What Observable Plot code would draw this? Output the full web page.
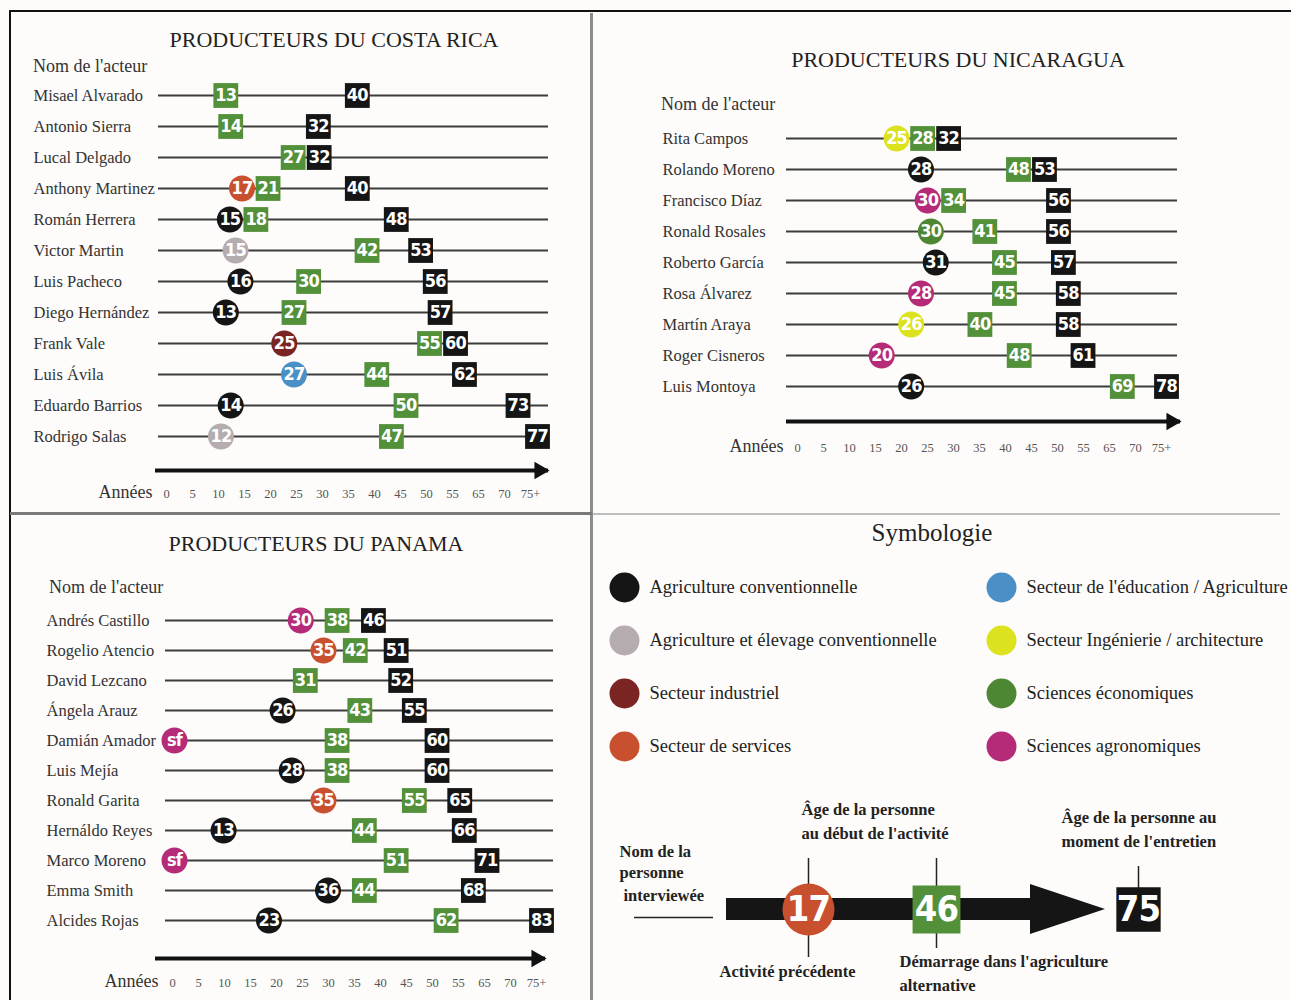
<!DOCTYPE html>
<html><head><meta charset="utf-8">
<script src="https://cdn.jsdelivr.net/npm/d3@7"></script>
<script src="https://cdn.jsdelivr.net/npm/@observablehq/plot@0.6"></script>
<style>
body{margin:0;background:#fdfcfa;}
#page{position:relative;width:1291px;height:1000px;overflow:hidden;background:#fdfcfa;font-family:"Liberation Serif","Times New Roman",serif;color:#222;}
#page svg{position:absolute;left:0;top:0;}
#page svg g[font-family="DejaVu Sans"]{font-stretch:condensed;letter-spacing:-0.8px;}
.t{position:absolute;white-space:nowrap;line-height:1;}
.ln{position:absolute;}
</style></head>
<body><div id="page"></div>
<script>
// ---------- DATA ----------
const categories = ["Agriculture conventionnelle","Agriculture et élevage conventionnelle","Secteur industriel","Secteur de services","Secteur de l'éducation / Agriculture","Secteur Ingénierie / architecture","Sciences économiques","Sciences agronomiques"];
const catColors = ["#151515","#b4acae","#7a2424","#c9502e","#4a8fc6","#dde21f","#4e8734","#b52b78"];
const tickLabels = ["0","5","10","15","20","25","30","35","40","45","50","55","65","70","75+"];

// Costa Rica
const crNames = ["Misael Alvarado","Antonio Sierra","Lucal Delgado","Anthony Martinez","Román Herrera","Victor Martin","Luis Pacheco","Diego Hernández","Frank Vale","Luis Ávila","Eduardo Barrios","Rodrigo Salas"];
const crPrevAge = [null,null,null,17,15,15,16,13,25,27,14,12];
const crPrevCat = [null,null,null,"Secteur de services","Agriculture conventionnelle","Agriculture et élevage conventionnelle","Agriculture conventionnelle","Agriculture conventionnelle","Secteur industriel","Secteur de l'éducation / Agriculture","Agriculture conventionnelle","Agriculture et élevage conventionnelle"];
const crStart = [13,14,27,21,18,42,30,27,55,44,50,47];
const crAge = [40,32,32,40,48,53,56,57,60,62,73,77];

// Nicaragua
const niNames = ["Rita Campos","Rolando Moreno","Francisco Díaz","Ronald Rosales","Roberto García","Rosa Álvarez","Martín Araya","Roger Cisneros","Luis Montoya"];
const niPrevAge = [25,28,30,30,31,28,26,20,26];
const niPrevCat = ["Secteur Ingénierie / architecture","Agriculture conventionnelle","Sciences agronomiques","Sciences économiques","Agriculture conventionnelle","Sciences agronomiques","Secteur Ingénierie / architecture","Sciences agronomiques","Agriculture conventionnelle"];
const niStart = [28,48,34,41,45,45,40,48,69];
const niAge = [32,53,56,56,57,58,58,61,78];

// Panama ("sf" shown at the start of the line)
const paNames = ["Andrés Castillo","Rogelio Atencio","David Lezcano","Ángela Arauz","Damián Amador","Luis Mejía","Ronald Garita","Hernáldo Reyes","Marco Moreno","Emma Smith","Alcides Rojas"];
const paPrevAge = [30,35,null,26,"sf",28,35,13,"sf",36,23];
const paPrevCat = ["Sciences agronomiques","Secteur de services",null,"Agriculture conventionnelle","Sciences agronomiques","Agriculture conventionnelle","Secteur de services","Agriculture conventionnelle","Sciences agronomiques","Agriculture conventionnelle","Agriculture conventionnelle"];
const paStart = [38,42,31,43,38,38,55,44,51,44,62];
const paAge = [46,51,52,55,60,60,65,66,71,68,83];

// Legend example
const exampleKinds = ["prev","start","age"];
const exampleValues = [17,46,75];

// ---------- STYLE ----------
const W = 1291, H = 1000;
const SERIF = "Liberation Serif";
const NUM = "DejaVu Sans";
const GREEN = "#53903a", BLACK = "#151515";
const colorScale = {domain: categories, range: catColors};
const page = document.getElementById("page");

function addDiv(cls, text, css) {
  const d = document.createElement("div");
  d.className = cls; if (text) d.textContent = text;
  Object.assign(d.style, css); page.appendChild(d); return d;
}
function add(svg){ page.appendChild(svg); }

// spread markers of one row so that they do not overlap (keeps group mean)
function spread(vals, gap) {
  let groups = vals.map(v => [v]);
  const place = g => { const m = d3.mean(g); return g.map((_, k) => m + (k - (g.length - 1) / 2) * gap); };
  let changed = true;
  while (changed) {
    changed = false;
    for (let i = 0; i < groups.length - 1; i++) {
      const a = place(groups[i]), b = place(groups[i + 1]);
      if (a[a.length - 1] + gap > b[0] + 1e-6) { groups.splice(i, 2, groups[i].concat(groups[i + 1])); changed = true; break; }
    }
  }
  return groups.flatMap(place);
}

const numText = {fill: "white", fontFamily: NUM, fontWeight: "bold", fontSize: 18, textAnchor: "middle"};

function panel(cfg) {
  const {names, prevAge, prevCat, start, age, xDomain, xRange, frame, yRange, nameX} = cfg;
  const pxPerYear = (xRange[1] - xRange[0]) / (xDomain[1] - xDomain[0]);
  const gap = 26 / pxPerYear;
  const rows = names.map((name, i) => ({name, prev: prevAge[i], cat: prevCat[i], start: start[i], age: age[i]}));
  const markers = [];
  rows.forEach(r => {
    const list = [];
    if (typeof r.prev === "number") list.push({name: r.name, v: r.prev, kind: "prev", cat: r.cat});
    list.push({name: r.name, v: r.start, kind: "start"});
    list.push({name: r.name, v: r.age, kind: "age"});
    const pos = spread(list.map(d => d.v), gap);
    list.forEach((d, k) => { d.pos = pos[k]; markers.push(d); });
  });
  const prevM = markers.filter(d => d.kind === "prev");
  const startM = markers.filter(d => d.kind === "start");
  const ageM = markers.filter(d => d.kind === "age");
  const sfRows = rows.filter(r => r.prev === "sf");
  add(Plot.plot({
    width: W, height: H,
    marginLeft: frame[0], marginRight: W - frame[1], marginTop: 0, marginBottom: 0,
    x: {domain: xDomain, range: xRange, axis: null},
    y: {type: "point", domain: names, range: yRange, padding: 0, axis: null},
    color: colorScale,
    style: {background: "transparent", overflow: "visible"},
    marks: [
      Plot.ruleY(rows, {y: "name", stroke: "#3c3c3c", strokeWidth: 2}),
      Plot.text(rows, {y: "name", text: "name", frameAnchor: "left", textAnchor: "start", dx: nameX - frame[0], fontFamily: SERIF, fontSize: 16.5, fill: "#333"}),
      Plot.dot(prevM, {x: "pos", y: "name", r: 13, fill: "cat"}),
      Plot.text(prevM, {x: "pos", y: "name", text: "v", ...numText}),
      Plot.dot(sfRows, {y: "name", frameAnchor: "left", dx: 9, r: 13, fill: "cat"}),
      Plot.text(sfRows, {y: "name", frameAnchor: "left", dx: 9, text: () => "sf", ...numText}),
      Plot.dot(startM, {x: "pos", y: "name", symbol: "square", r: 14, fill: GREEN}),
      Plot.text(startM, {x: "pos", y: "name", text: "v", ...numText}),
      Plot.dot(ageM, {x: "pos", y: "name", symbol: "square", r: 14, fill: BLACK}),
      Plot.text(ageM, {x: "pos", y: "name", text: "v", ...numText})
    ]
  }));
  // arrow + years axis
  const {arrowX, arrowY, tickRange, labelY} = cfg;
  add(Plot.plot({
    width: W, height: H,
    marginLeft: arrowX[0], marginRight: W - arrowX[1], marginTop: 0, marginBottom: 0,
    x: {type: "point", domain: tickLabels, range: tickRange, padding: 0, axis: null},
    y: {type: "identity", axis: null},
    style: {background: "transparent", overflow: "visible"},
    marks: [
      Plot.ruleY([arrowY], {y: d => d, stroke: "#111", strokeWidth: 4}),
      Plot.dot([arrowY], {y: d => d, frameAnchor: "right", dx: -9, symbol: "triangle", rotate: 90, r: 6.5, fill: "#111"}),
      Plot.text(tickLabels, {x: d => d, y: () => labelY, fontFamily: SERIF, fontSize: 12.5, fill: "#555"}),
      Plot.text(["Années"], {x: () => tickLabels[0], y: () => labelY - 1, textAnchor: "end", dx: -14, fontFamily: SERIF, fontSize: 18, fill: "#333"})
    ]
  }));
  addDiv("t", cfg.title, {left: cfg.titleC[0] + "px", top: cfg.titleC[1] + "px", transform: "translate(-50%,-50%)", fontSize: "22px"});
  addDiv("t", "Nom de l'acteur", {left: cfg.nomAt[0] + "px", top: cfg.nomAt[1] + "px", transform: "translateY(-50%)", fontSize: "18px", color: "#333"});
}

// ---------- FRAME LINES ----------
addDiv("ln", "", {left: "9px", top: "10px", width: (W - 9) + "px", height: "2px", background: "#111"});
addDiv("ln", "", {left: "9px", top: "10px", width: "2px", height: (H - 10) + "px", background: "#111"});
addDiv("ln", "", {left: "590px", top: "13px", width: "3px", height: (H - 13) + "px", background: "#8c8c8c"});
addDiv("ln", "", {left: "10px", top: "512px", width: "582px", height: "3px", background: "#7a7a7a"});
addDiv("ln", "", {left: "593px", top: "513px", width: "687px", height: "1.5px", background: "#bdbdbd"});

// ---------- PANELS ----------
panel({title: "PRODUCTEURS DU COSTA RICA", titleC: [334, 40], nomAt: [33, 66],
  names: crNames, prevAge: crPrevAge, prevCat: crPrevCat, start: crStart, age: crAge,
  xDomain: [0, 77], xRange: [162, 537], frame: [158, 548], yRange: [95, 436], nameX: 33,
  arrowX: [155, 548], arrowY: 470, tickRange: [163, 533], labelY: 493});
panel({title: "PRODUCTEURS DU NICARAGUA", titleC: [958, 60], nomAt: [661, 104],
  names: niNames, prevAge: niPrevAge, prevCat: niPrevCat, start: niStart, age: niAge,
  xDomain: [0, 78], xRange: [783, 1166], frame: [786, 1177], yRange: [137, 387], nameX: 662,
  arrowX: [786, 1180], arrowY: 421, tickRange: [795, 1163], labelY: 447});
panel({title: "PRODUCTEURS DU PANAMA", titleC: [316, 544], nomAt: [49, 587],
  names: paNames, prevAge: paPrevAge, prevCat: paPrevCat, start: paStart, age: paAge,
  xDomain: [0, 83], xRange: [164, 541], frame: [165, 553], yRange: [615, 924], nameX: 46,
  arrowX: [155, 545], arrowY: 958, tickRange: [170, 537], labelY: 982});

// ---------- SYMBOLOGIE ----------
addDiv("t", "Symbologie", {left: "932px", top: "532px", transform: "translate(-50%,-50%)", fontSize: "25px"});
const legendItems = categories.map((c, i) => ({cat: c, col: Math.floor(i / 4), row: i % 4}));
add(Plot.plot({
  width: W, height: H, margin: 0,
  x: {type: "point", domain: [0, 1], range: [624, 1001], padding: 0, axis: null},
  y: {type: "point", domain: [0, 1, 2, 3], range: [586, 747], padding: 0, axis: null},
  color: colorScale,
  style: {background: "transparent", overflow: "visible"},
  marks: [
    Plot.dot(legendItems, {x: "col", y: "row", r: 15, fill: "cat"}),
    Plot.text(legendItems, {x: "col", y: "row", text: "cat", textAnchor: "start", dx: 25, fontFamily: SERIF, fontSize: 18.5, fill: "#222"})
  ]
}));

// schematic explanation of one line
const ex = exampleKinds.map((k, i) => ({kind: k, v: exampleValues[i]}));
const exX = {prev: 808, start: 936, age: 1138};
const exTick = {prev: [858, 957], start: [858, 948], age: [866, 890]};
const notes = [
  {t: "Âge de la personne", x: 801, y: 809}, {t: "au début de l'activité", x: 801, y: 833},
  {t: "Âge de la personne au", x: 1061, y: 817}, {t: "moment de l'entretien", x: 1061, y: 841},
  {t: "Nom de la", x: 619, y: 851}, {t: "personne", x: 619, y: 872}, {t: "interviewée", x: 623, y: 895},
  {t: "Activité précédente", x: 719, y: 971},
  {t: "Démarrage dans l'agriculture", x: 899, y: 961}, {t: "alternative", x: 899, y: 985}
];
const bar = [{x1: 726, x2: 1040, y1: 898, y2: 920}];
const head = [{x: 1030, y1: 884, y2: 934}, {x: 1105, y1: 909, y2: 909}];
const nameLine = [{y: 917, x1: 634, x2: 713}];
const exOf = k => ex.filter(d => d.kind === k);
const exPos = {x: d => exX[d.kind], y: () => 909};
const exNum = {...exPos, text: "v", fill: "white", fontFamily: NUM, fontWeight: "bold", fontSize: 36, textAnchor: "middle"};
add(Plot.plot({
  width: W, height: H, margin: 0,
  x: {type: "identity", axis: null}, y: {type: "identity", axis: null},
  style: {background: "transparent", overflow: "visible"},
  marks: [
    Plot.ruleY(nameLine, {y: "y", x1: "x1", x2: "x2", stroke: "#222", strokeWidth: 1.5}),
    Plot.ruleX(ex, {x: d => exX[d.kind], y1: d => exTick[d.kind][0], y2: d => exTick[d.kind][1], stroke: "#222", strokeWidth: 1.5}),
    Plot.rect(bar, {x1: "x1", x2: "x2", y1: "y1", y2: "y2", fill: BLACK}),
    Plot.areaY(head, {x: "x", y1: "y1", y2: "y2", fill: BLACK}),
    Plot.dot(exOf("prev"), {...exPos, r: 26, fill: "#c9502e"}),
    Plot.dot(exOf("start"), {...exPos, r: 27, symbol: "square", fill: GREEN}),
    Plot.dot(exOf("age"), {...exPos, r: 25, symbol: "square", fill: BLACK}),
    Plot.text(ex, exNum),
    Plot.text(notes, {x: "x", y: "y", text: "t", fontFamily: SERIF, fontWeight: "bold", fontSize: 16.5, fill: "#222", textAnchor: "start"})
  ]
}));
</script>
</body></html>
